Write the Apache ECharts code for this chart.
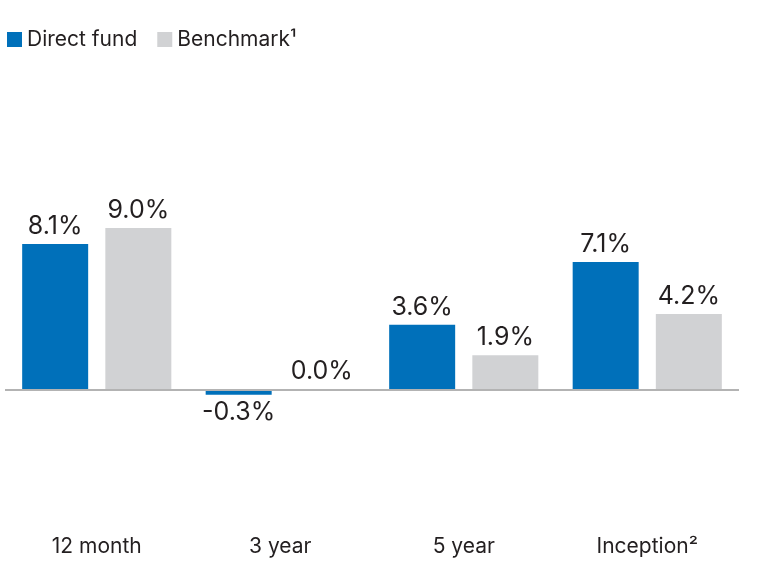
<!DOCTYPE html>
<html>
<head>
<meta charset="utf-8">
<style>
  html, body { margin: 0; padding: 0; background: #fff; }
  #chart { width: 764px; height: 580px; }
</style>
<script src="https://cdn.jsdelivr.net/npm/echarts@6/dist/echarts.min.js"></script>
</head>
<body>
<div id="chart"></div>
<script>
// data
const categories = ['12 month', '3 year', '5 year', 'Inception\u00B2'];
const directFund = [8.1, -0.3, 3.6, 7.1];
const benchmark = [9.0, 0.0, 1.9, 4.2];
const seriesNames = ['Direct fund', 'Benchmark\u00B9'];

const textColor = '#231f20';
const fontFamily = 'Inter, "Liberation Sans", sans-serif';

// negative values get their label below the bar
function withLabels(values) {
  return values.map(v => ({
    value: v,
    label: { position: v < 0 ? 'bottom' : 'top' }
  }));
}

const valueLabel = {
  show: true,
  distance: 5,
  fontSize: 25,
  color: textColor,
  fontFamily: fontFamily,
  formatter: p => p.value.toFixed(1) + '%'
};

const chart = echarts.init(document.getElementById('chart'));
const option = {
  backgroundColor: '#ffffff',
  animation: false,
  legend: {
    left: 2,
    top: 24,
    icon: 'rect',
    itemWidth: 15,
    itemHeight: 15,
    itemGap: 20,
    textStyle: { fontSize: 21, color: textColor, fontFamily: fontFamily },
    data: seriesNames
  },
  grid: { left: 5, right: 25, top: 210, bottom: 47 },
  xAxis: {
    type: 'category',
    data: categories,
    position: 'bottom',
    axisLine: { show: false, onZero: false },
    axisTick: { show: false },
    axisLabel: { fontSize: 21, color: textColor, fontFamily: fontFamily, margin: 3 }
  },
  yAxis: {
    type: 'value',
    min: -8,
    max: 10,
    interval: 2,
    show: false
  },
  series: [
    {
      name: seriesNames[0],
      type: 'bar',
      barWidth: 66,
      barGap: '26%',
      itemStyle: { color: '#0070ba' },
      label: valueLabel,
      data: withLabels(directFund),
      markLine: {
        silent: true,
        symbol: 'none',
        label: { show: false },
        lineStyle: { color: '#b3b3b3', width: 2, type: 'solid' },
        data: [{ yAxis: 0 }]
      },
      z: 3
    },
    {
      name: seriesNames[1],
      type: 'bar',
      barWidth: 66,
      itemStyle: { color: '#d1d2d4' },
      label: valueLabel,
      data: withLabels(benchmark),
      z: 3
    }
  ]
};
chart.setOption(option);
</script>
</body>
</html>
